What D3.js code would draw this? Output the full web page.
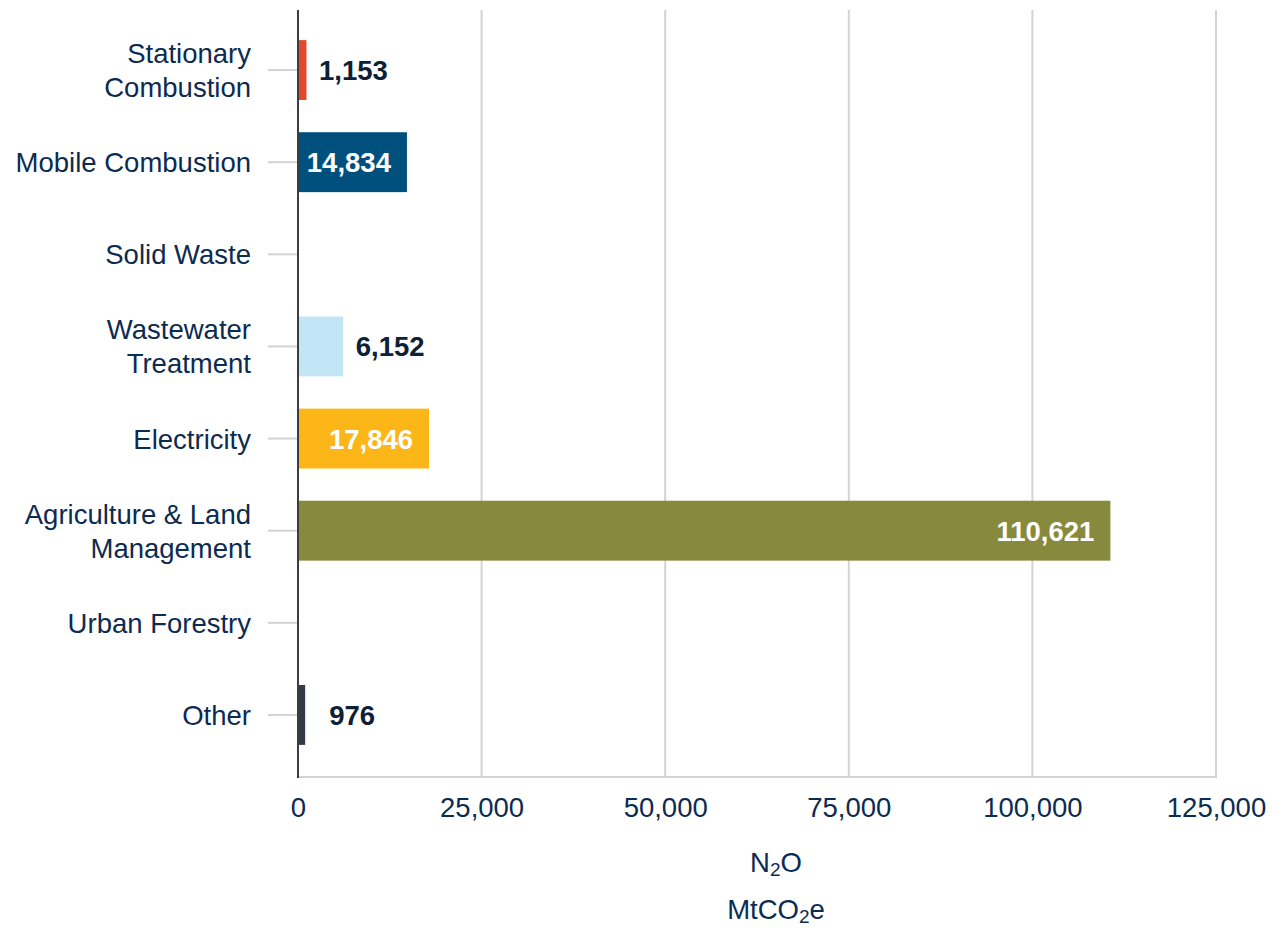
<!DOCTYPE html>
<html><head><meta charset="utf-8">
<script src="https://cdn.jsdelivr.net/npm/d3@7"></script>
<style>body{margin:0;background:#fff;}svg{display:block;font-family:"Liberation Sans",Arial,sans-serif;}</style>
</head><body>
<svg id="c" width="1278" height="928"></svg>
<script>
const categories = [["Stationary","Combustion"],["Mobile Combustion"],["Solid Waste"],["Wastewater","Treatment"],["Electricity"],["Agriculture & Land","Management"],["Urban Forestry"],["Other"]];
const values = [1153, 14834, null, 6152, 17846, 110621, null, 976];
const colors = ["#e1492a","#00507e",null,"#c3e6f6","#fdb617","#878a3d",null,"#343a48"];
const labelInside = [false,true,false,false,true,true,false,false];
const xTicks = [0,25000,50000,75000,100000,125000];

(function(){
const svg = d3.select("#c");
const navy = "#0c2b50";
const fs = 27.5;
const x = d3.scaleLinear().domain([0,125000]).range([298,1216]);
const keys = categories.map((c,i)=>i);
const y = d3.scaleBand().domain(keys).range([24,761]).paddingInner(0.35).paddingOuter(0.175);
const plotTop = 10, plotBottom = 777;

svg.append("g").selectAll("line").data(xTicks.slice(1)).join("line")
  .attr("x1",d=>x(d)).attr("x2",d=>x(d)).attr("y1",plotTop).attr("y2",plotBottom)
  .attr("stroke","#d3d3d3").attr("stroke-width",2);
svg.append("line").attr("x1",x(0)).attr("x2",x(125000)+1).attr("y1",plotBottom).attr("y2",plotBottom)
  .attr("stroke","#d3d3d3").attr("stroke-width",2);

const xAxis = svg.append("g").attr("transform",`translate(0,${plotBottom})`)
  .call(d3.axisBottom(x).tickValues(xTicks).tickSize(0).tickPadding(20).tickFormat(d3.format(",")));
xAxis.select(".domain").remove();
xAxis.attr("font-family",null).attr("font-size",null);
xAxis.selectAll("text").attr("font-size",fs).attr("fill",navy);

svg.append("g").selectAll("line").data(keys).join("line")
  .attr("x1",268).attr("x2",x(0)).attr("y1",d=>y(d)+y.bandwidth()/2).attr("y2",d=>y(d)+y.bandwidth()/2)
  .attr("stroke","#d3d3d3").attr("stroke-width",2);

const cl = svg.append("g").selectAll("text").data(keys).join("text")
  .attr("x",251).attr("text-anchor","end").attr("font-size",fs).attr("fill",navy)
  .attr("y",d=>y(d)+y.bandwidth()/2 + 10 - (categories[d].length-1)*17);
cl.each(function(d){
  const t=d3.select(this);
  categories[d].forEach((ln,j)=>{
    t.append("tspan").attr("x",251).attr("dy",j===0?0:34).text(ln);
  });
});

const data = keys.filter(i=>values[i]!=null);
svg.append("g").selectAll("rect").data(data).join("rect")
  .attr("x",x(0)).attr("y",d=>y(d)).attr("height",y.bandwidth())
  .attr("width",d=>x(values[d])-x(0)).attr("fill",d=>colors[d]);

svg.append("g").selectAll("text").data(data).join("text")
  .attr("font-size",fs).attr("font-weight","bold")
  .attr("y",d=>y(d)+y.bandwidth()/2+10)
  .attr("x",d=>labelInside[d]? x(values[d])-16 : x(values[d])+47)
  .attr("text-anchor",d=>labelInside[d]?"end":"middle")
  .attr("fill",d=>labelInside[d]?"#ffffff":"#0e2035")
  .text(d=>d3.format(",")(values[d]));

svg.append("line").attr("x1",x(0)).attr("x2",x(0)).attr("y1",plotTop).attr("y2",plotBottom+1)
  .attr("stroke","#3d3d3d").attr("stroke-width",2);

const t1 = svg.append("text").attr("x",776).attr("y",872).attr("text-anchor","middle").attr("font-size",fs).attr("fill",navy);
t1.append("tspan").text("N");
t1.append("tspan").attr("font-size",19).attr("dy",4).text("2");
t1.append("tspan").attr("dy",-4).text("O");
const t2 = svg.append("text").attr("x",776).attr("y",919).attr("text-anchor","middle").attr("font-size",fs).attr("fill",navy);
t2.append("tspan").text("MtCO");
t2.append("tspan").attr("font-size",19).attr("dy",4).text("2");
t2.append("tspan").attr("dy",-4).text("e");
})();
</script>
</body></html>
